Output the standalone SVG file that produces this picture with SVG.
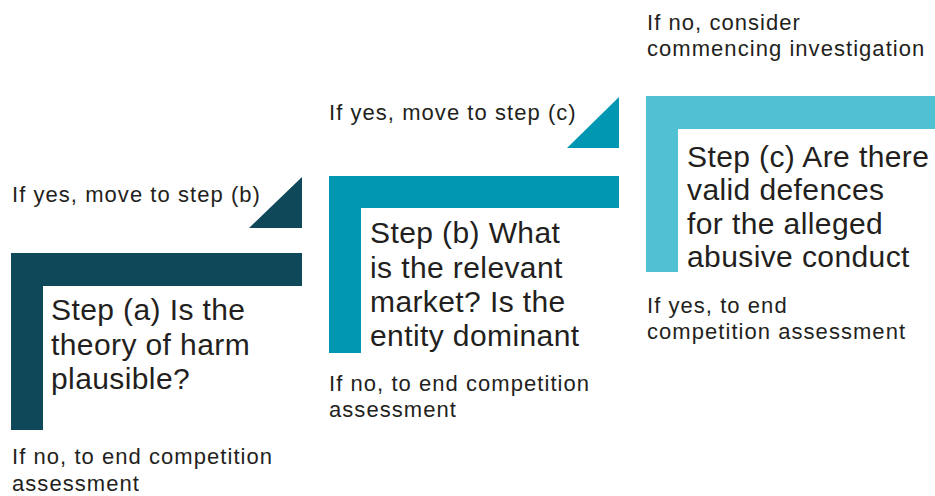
<svg xmlns="http://www.w3.org/2000/svg" width="935" height="496" viewBox="0 0 935 496">
<style>
.big{font-family:"Liberation Sans",Arial,Helvetica,sans-serif;font-size:30px;letter-spacing:0.4px;fill:#231f20}
.small{font-family:"Liberation Sans",Arial,Helvetica,sans-serif;font-size:22px;letter-spacing:1.05px;fill:#231f20}
.ca{fill:#0f4859}
.cb{fill:#0097b2}
.cc{fill:#4fc1d2}
</style>
<rect width="935" height="496" fill="#ffffff"/>
<g id="connectors">
<polygon class="ca" points="249,228 302,228 302,177"/>
<polygon class="cb" points="567,148 619,148 619,97"/>
</g>
<g id="step-a">
<path class="ca" d="M11,253 H302 V286 H43 V430 H11 Z"/>
<text class="big"><tspan x="51" y="320">Step (a) Is the</tspan><tspan x="51" y="355">theory of harm</tspan><tspan x="51" y="389">plausible?</tspan></text>
</g>
<g id="step-b">
<path class="cb" d="M329,176 H619 V208 H361 V353 H329 Z"/>
<text class="big"><tspan x="370" y="243">Step (b) What</tspan><tspan x="370" y="278">is the relevant</tspan><tspan x="370" y="312">market? Is the</tspan><tspan x="370" y="346">entity dominant</tspan></text>
</g>
<g id="step-c">
<path class="cc" d="M646,96 H935 V129 H678 V272 H646 Z"/>
<text class="big"><tspan x="687" y="167">Step (c) Are there</tspan><tspan x="687" y="200">valid defences</tspan><tspan x="687" y="234">for the alleged</tspan><tspan x="687" y="267">abusive conduct</tspan></text>
</g>
<g id="labels">
<text class="small" x="12" y="202">If yes, move to step (b)</text>
<text class="small"><tspan x="12" y="464">If no, to end competition</tspan><tspan x="12" y="491">assessment</tspan></text>
<text class="small" x="329" y="120">If yes, move to step (c)</text>
<text class="small"><tspan x="329" y="391">If no, to end competition</tspan><tspan x="329" y="417">assessment</tspan></text>
<text class="small"><tspan x="647" y="30">If no, consider</tspan><tspan x="647" y="56">commencing investigation</tspan></text>
<text class="small"><tspan x="647" y="313">If yes, to end</tspan><tspan x="647" y="339">competition assessment</tspan></text>
</g>
</svg>
